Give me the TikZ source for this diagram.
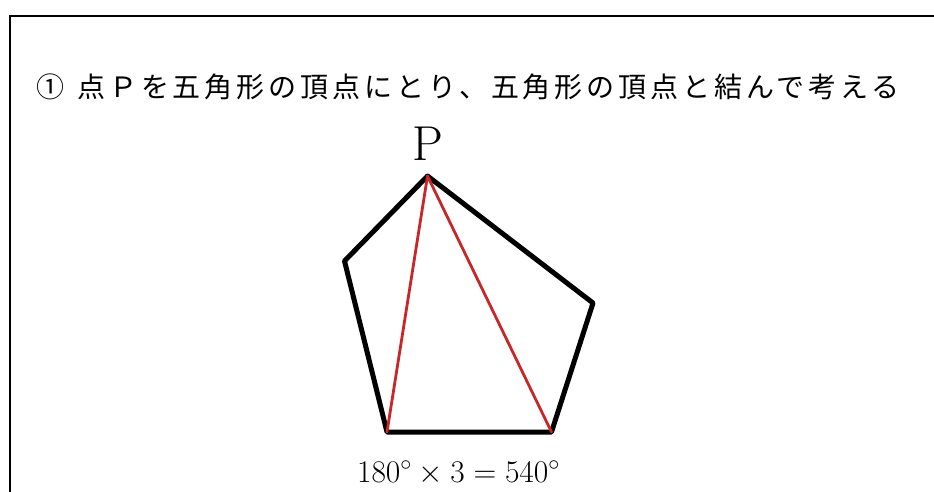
\RequirePackage{fix-cm}
\documentclass[tikz,border=0pt]{standalone}
\usepackage{fontspec}
\newfontfamily\cjkfont[LetterSpace=14]{Noto Sans CJK JP}
\definecolor{edgered}{RGB}{200,38,40}
\begin{document}
\begin{tikzpicture}[x=1pt,y=-1pt,
  frameline/.style={line width=2pt, black},
  pentedge/.style={line width=5pt, black, line cap=round, line join=round},
  diagline/.style={line width=2.8pt, edgered, line cap=round},
  titletext/.style={inner sep=0pt, anchor=base west, font=\cjkfont\fontsize{28}{28}\selectfont},
  ptext/.style={inner sep=0pt, anchor=base, font=\fontsize{49}{49}\selectfont},
  calctext/.style={inner sep=0pt, anchor=base, font=\fontsize{31.5}{31.5}\selectfont}]
\useasboundingbox (0,0) rectangle (934,491);
\begin{scope}
\clip (0,0) rectangle (934,491);
\draw[frameline] (940,15.5) -- (9.5,15.5) -- (9.5,500);
\end{scope}
\node[titletext] (title) at (36,97) {①\hspace{13pt}点Ｐを五角形の頂点にとり、五角形の頂点と結んで考える};
\coordinate (P) at (427.5,176);
\coordinate (L) at (344.5,261);
\coordinate (R) at (593,303);
\coordinate (BL) at (387,432);
\coordinate (BR) at (551.5,432);
\draw[pentedge] (P) -- (L) -- (BL) -- (BR) -- (R) -- cycle;
\draw[diagline] (P) -- (BL);
\draw[diagline] (P) -- (BR);
\node[ptext] (plabel) at (427.5,160) {P};
\node[calctext] (calc) at (458.5,482) {$180^\circ\times3=540^\circ$};
\end{tikzpicture}
\end{document}
